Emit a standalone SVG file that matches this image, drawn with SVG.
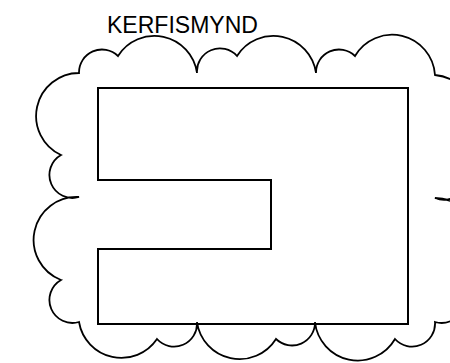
<svg xmlns="http://www.w3.org/2000/svg" width="450" height="363" viewBox="0 0 450 363">
<style>
.ln{fill:none;stroke:#000;stroke-linejoin:miter}
.cloud{stroke-width:1.8}
.plan{stroke-width:2}
.lbl{font-family:"Liberation Sans",Arial,sans-serif;font-size:23px;fill:#000}
</style>
<rect width="450" height="363" fill="#fff"/>
<g id="cloud">
<path class="ln cloud" d="M79 73 A23 23 0 0 1 118 56 A43 43 0 0 1 197 73 A23 23 0 0 1 237 56 A43 43 0 0 1 316 73 A23 23 0 0 1 355 56 A43 43 0 0 1 435 75 A43 43 0 0 1 453 155 A23 23 0 0 1 435 198 A43 43 0 0 1 453 280 A23 23 0 0 1 435 322 A23 23 0 0 1 395 339 A43 43 0 0 1 315 322 A23 23 0 0 1 276 339 A43 43 0 0 1 197 322 A23 23 0 0 1 157 339 A43 43 0 0 1 79 322 A23 23 0 0 1 61 280 A43 43 0 0 1 79 197 A23 23 0 0 1 61 155 A43 43 0 0 1 79 73 Z"/>
</g>
<g id="plan">
<path class="ln plan" d="M98 88 H408 V324 H98 V249 H271 V180 H98 Z"/>
</g>
<g id="title">
<text class="lbl" x="107" y="33" textLength="151" lengthAdjust="spacingAndGlyphs">KERFISMYND</text>
</g>
</svg>
